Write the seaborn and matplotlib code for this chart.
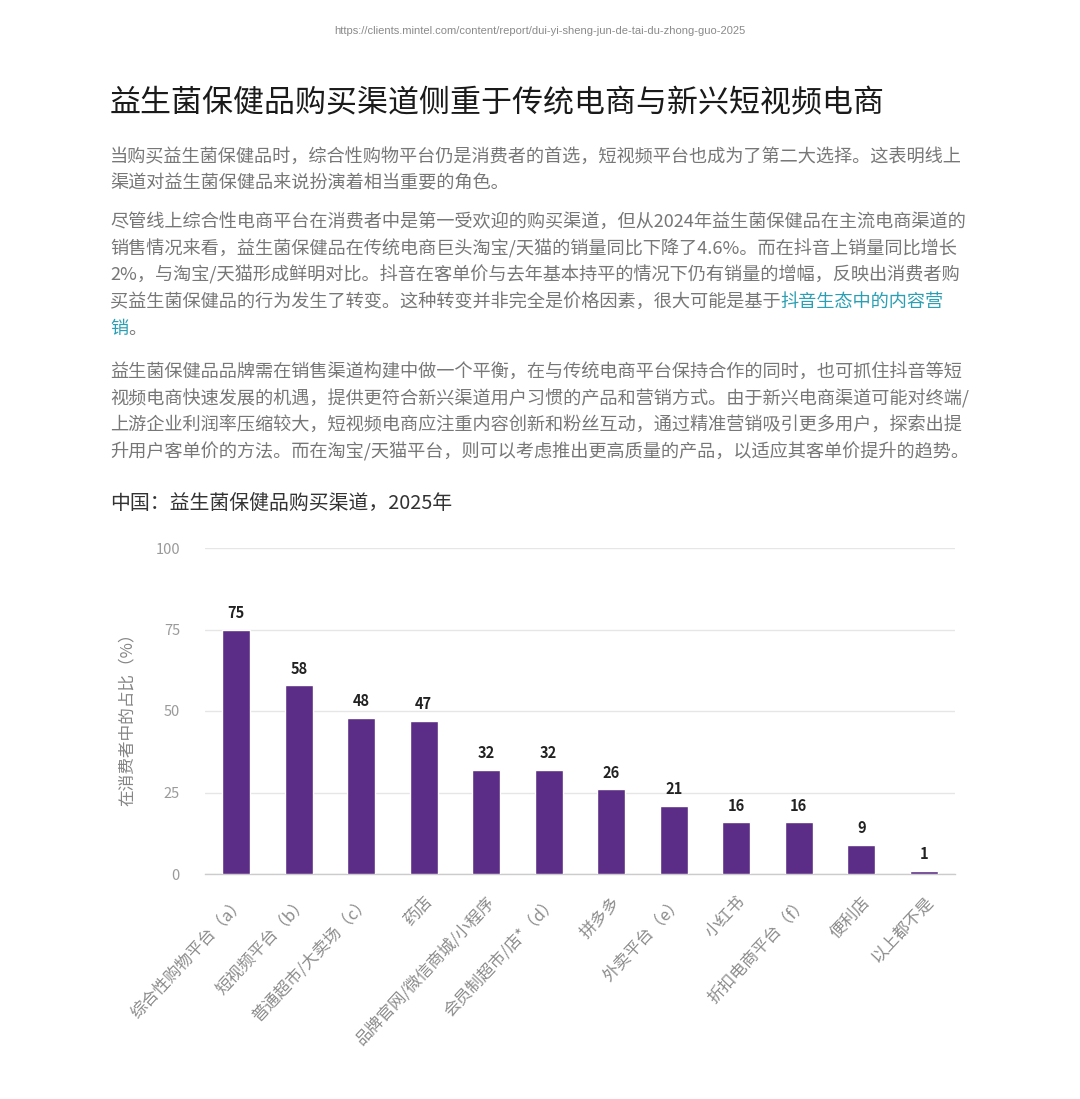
import matplotlib
matplotlib.use("Agg")
import matplotlib.pyplot as plt
import seaborn as sns

# data
channels = ["综合性购物平台（a）", "短视频平台（b）", "普通超市/大卖场（c）", "药店",
            "品牌官网/微信商城/小程序", "会员制超市/店*（d）", "拼多多", "外卖平台（e）",
            "小红书", "折扣电商平台（f）", "便利店", "以上都不是"]
shares = [75, 58, 48, 47, 32, 32, 26, 21, 16, 16, 9, 1]
y_ticks = [0, 25, 50, 75, 100]

url = "https://clients.mintel.com/content/report/dui-yi-sheng-jun-de-tai-du-zhong-guo-2025"
headline = "益生菌保健品购买渠道侧重于传统电商与新兴短视频电商"
para1 = ["当购买益生菌保健品时，综合性购物平台仍是消费者的首选，短视频平台也成为了第二大选择。这表明线上",
         "渠道对益生菌保健品来说扮演着相当重要的角色。"]
para2 = ["尽管线上综合性电商平台在消费者中是第一受欢迎的购买渠道，但从2024年益生菌保健品在主流电商渠道的",
         "销售情况来看，益生菌保健品在传统电商巨头淘宝/天猫的销量同比下降了4.6%。而在抖音上销量同比增长",
         "2%，与淘宝/天猫形成鲜明对比。抖音在客单价与去年基本持平的情况下仍有销量的增幅，反映出消费者购"]
para2_tail = ("买益生菌保健品的行为发生了转变。这种转变并非完全是价格因素，很大可能是基于", "抖音生态中的内容营")
para2_last = ("销", "。")
para3 = ["益生菌保健品品牌需在销售渠道构建中做一个平衡，在与传统电商平台保持合作的同时，也可抓住抖音等短",
         "视频电商快速发展的机遇，提供更符合新兴渠道用户习惯的产品和营销方式。由于新兴电商渠道可能对终端/",
         "上游企业利润率压缩较大，短视频电商应注重内容创新和粉丝互动，通过精准营销吸引更多用户，探索出提",
         "升用户客单价的方法。而在淘宝/天猫平台，则可以考虑推出更高质量的产品，以适应其客单价提升的趋势。"]
chart_title = "中国：益生菌保健品购买渠道，2025年"
y_label = "在消费者中的占比（%）"

sns.set_style("white")
plt.rcParams["font.family"] = ["Noto Sans CJK SC", "DejaVu Sans"]

W, H = 1080, 1099
fig = plt.figure(figsize=(W / 100, H / 100), dpi=100)
fig.patch.set_facecolor("white")


def fy(py):
    return 1 - py / H


gray = "#777777"
link = "#2a9fb3"
fs_body = 13.1
left = 110 / W

fig.text(0.5, fy(31), url, ha="center", va="center", fontsize=8, color="#8a8a8a",
         family=["Liberation Sans", "DejaVu Sans"])
fig.text(left, fy(104), headline, ha="left", va="center", fontsize=22.3, color="#1a1a1a")

for i, line in enumerate(para1):
    fig.text(left, fy(157 + 26 * i), line, ha="left", va="center", fontsize=fs_body, color=gray)

for i, line in enumerate(para2):
    fig.text(left, fy(222 + 26.5 * i), line, ha="left", va="center", fontsize=fs_body, color=gray)

renderer = fig.canvas.get_renderer()
t = fig.text(left, fy(302), para2_tail[0], ha="left", va="center", fontsize=fs_body, color=gray)
x1 = t.get_window_extent(renderer).x1 / W
fig.text(x1, fy(302), para2_tail[1], ha="left", va="center", fontsize=fs_body, color=link)
t = fig.text(left, fy(329), para2_last[0], ha="left", va="center", fontsize=fs_body, color=link)
x1 = t.get_window_extent(renderer).x1 / W
fig.text(x1, fy(329), para2_last[1], ha="left", va="center", fontsize=fs_body, color=gray)

for i, line in enumerate(para3):
    fig.text(left, fy(372 + 26.7 * i), line, ha="left", va="center", fontsize=fs_body, color=gray)

fig.text(left, fy(503), chart_title, ha="left", va="center", fontsize=14.3, color="#333333")

# chart
ax = fig.add_axes([205 / W, 1 - 874 / H, 750 / W, (874 - 548) / H])
sns.barplot(x=list(range(len(channels))), y=shares, color="#5b2d86", width=0.45,
            saturation=1, ax=ax, zorder=3)
ax.set_ylim(0, 100)
ax.set_xlim(-0.5, len(channels) - 0.5)
ax.set_yticks(y_ticks)
ax.set_yticklabels([str(v) for v in y_ticks])
ax.grid(axis="y", color="#e6e6e6", linewidth=1, zorder=0)
ax.grid(axis="x", visible=False)
for s in ["top", "right", "left"]:
    ax.spines[s].set_visible(False)
ax.spines["bottom"].set_color("#cccccc")
ax.spines["bottom"].set_linewidth(1)
ax.tick_params(axis="y", length=0, pad=18, labelsize=10.5, labelcolor="#9a9a9a")
ax.tick_params(axis="x", length=0, pad=14)
ax.set_xticks(range(len(channels)))
ax.set_xticklabels(channels, rotation=47, ha="right", va="top", rotation_mode="anchor",
                   fontsize=12, color="#8c8c8c")
ax.set_xlabel("")
ax.set_ylabel("")
for c in ax.containers:
    ax.bar_label(c, labels=[str(v) for v in shares], padding=6, fontsize=10.5,
                 fontweight="bold", color="#222222")

fig.text(127 / W, fy(715), y_label, rotation=90, ha="center", va="center",
         fontsize=12, color="#858585")

fig.savefig("out.png", dpi=100, facecolor="white")
